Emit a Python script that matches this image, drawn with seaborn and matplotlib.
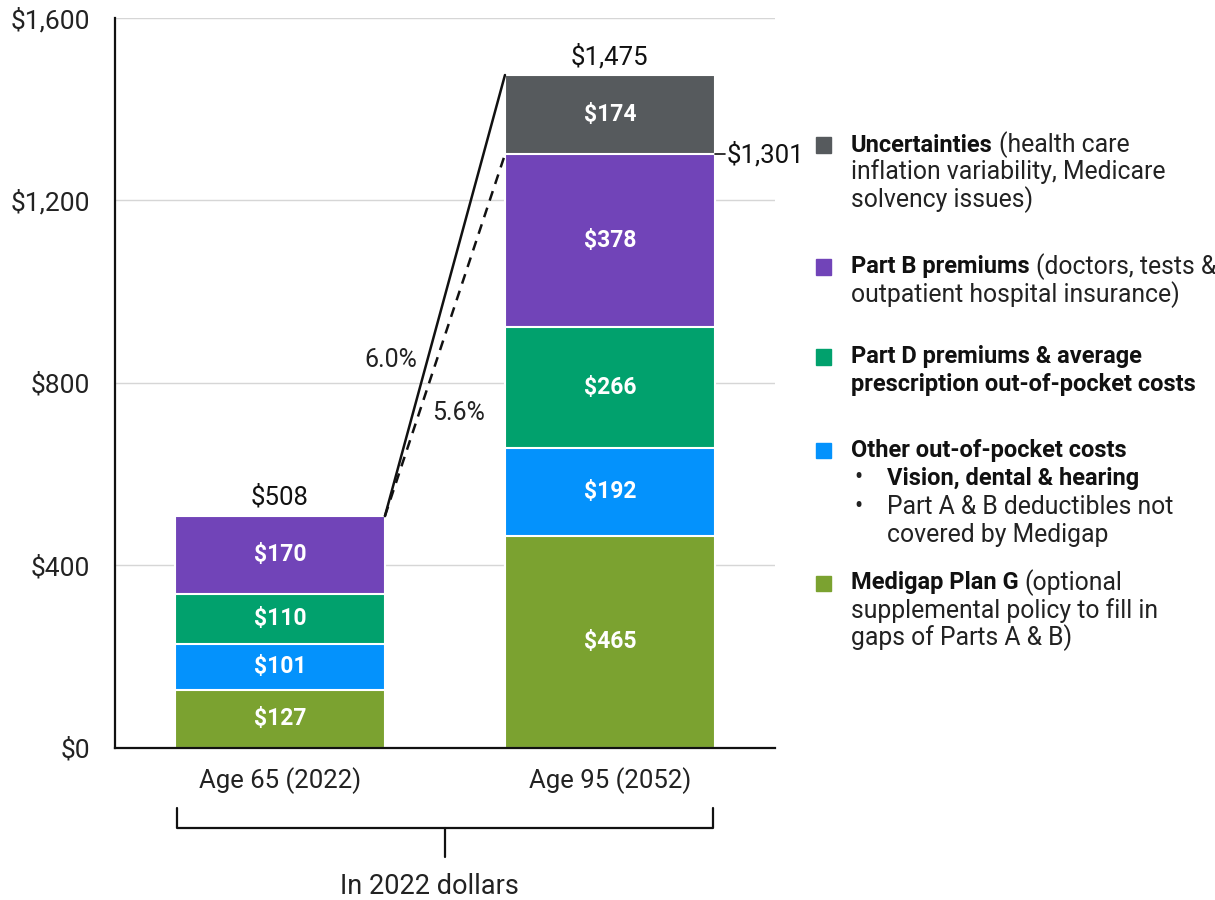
import matplotlib
matplotlib.use("Agg")
import matplotlib.pyplot as plt
import seaborn as sns
import pandas as pd
import numpy as np

# data
categories = ["Age 65 (2022)", "Age 95 (2052)"]
medigap = [127, 465]
other_oop = [101, 192]
part_d = [110, 266]
part_b = [170, 378]
uncert = [0, 174]
totals_note = ["$508", "$1,475"]
rate_labels = ["6.0%", "5.6%"]
yticks = [0, 400, 800, 1200, 1600]

colors = {"medigap": "#7BA230", "other": "#0492FC", "partd": "#01A16D",
          "partb": "#7144B8", "uncert": "#565A5D"}

sns.set_theme(style="white")
plt.rcParams["font.family"] = ["Roboto", "DejaVu Sans"]

fig = plt.figure(figsize=(12.15, 9), dpi=100)
ax = fig.add_axes([0.0947, 0.169, 0.543, 0.811])

layers = [("medigap", medigap), ("other", other_oop), ("partd", part_d),
          ("partb", part_b), ("uncert", uncert)]
cum = np.cumsum([v for _, v in layers], axis=0)

# draw cumulative bars from top layer down so each lower segment overlays
for i in range(len(layers) - 1, -1, -1):
    key = layers[i][0]
    df = pd.DataFrame({"cat": categories, "val": cum[i]})
    sns.barplot(data=df, x="cat", y="val", color=colors[key], width=0.636,
                saturation=1, edgecolor="white", linewidth=1.5, ax=ax, zorder=2)

# segment labels
for i, (key, vals) in enumerate(layers):
    for j, v in enumerate(vals):
        if v <= 0:
            continue
        mid = cum[i][j] - v / 2
        ax.text(j, mid, f"${v}", ha="center", va="center", color="white",
                fontsize=16.5, fontweight="bold", zorder=3)

ax.set_xlim(-0.5, 1.5)
ax.set_ylim(0, 1600)
ax.set_yticks(yticks)
ax.set_yticklabels([f"${t:,}" for t in yticks])
ax.tick_params(axis="y", length=0, labelsize=19, labelcolor="#222222", pad=18)
ax.tick_params(axis="x", length=0, labelsize=18.5, labelcolor="#222222", pad=14)
ax.set_xlabel("")
ax.set_ylabel("")
ax.yaxis.grid(True, color="#d6d6d6", linewidth=1, zorder=0)
ax.set_axisbelow(True)
for s in ["top", "right"]:
    ax.spines[s].set_visible(False)
for s in ["left", "bottom"]:
    ax.spines[s].set_color("#111111")
    ax.spines[s].set_linewidth(1.6)
    ax.spines[s].set_zorder(4)

hw = 0.318
tot1 = cum[3][0]
tot2_full = cum[4][1]
tot2_base = cum[3][1]

# growth lines
ax.plot([0 + hw, 1 - hw], [tot1, tot2_full], color="#111111", lw=1.8, zorder=4)
ax.plot([0 + hw, 1 - hw], [tot1, tot2_base], color="#111111", lw=1.8,
        ls=(0, (4, 3)), zorder=4)
ax.text(0.415, 850, rate_labels[0], ha="right", va="center", fontsize=18, color="#222222")
ax.text(0.46, 735, rate_labels[1], ha="left", va="center", fontsize=18, color="#222222")

# totals
ax.text(0, tot1 + 14, totals_note[0], ha="center", va="bottom", fontsize=18.5, color="#111111")
ax.text(1, tot2_full + 12, totals_note[1], ha="center", va="bottom", fontsize=18.5, color="#111111")
ax.plot([1 + hw, 1 + hw + 0.03], [tot2_base, tot2_base], color="#111111", lw=1.2, clip_on=False)
ax.text(1 + hw + 0.036, tot2_base, f"${tot2_base:,}", ha="left", va="center",
        fontsize=18.5, color="#111111", clip_on=False)

# bracket below categories
def fx(px):
    return px / 1215
def fy(py):
    return 1 - py / 900
fig.add_artist(plt.Line2D([fx(177), fx(177), fx(713), fx(713)],
                          [fy(808), fy(828), fy(828), fy(808)], color="#111111", lw=1.6))
fig.add_artist(plt.Line2D([fx(445), fx(445)], [fy(828), fy(857)], color="#111111", lw=1.6))
fig.text(fx(429), fy(886), "In 2022 dollars", ha="center", va="center", fontsize=19.5, color="#222222")

# legend
renderer = fig.canvas.get_renderer()
lx = fx(851)
sq = 15
fs_b = 17
fs_r = 17.8

def line(y, bold, rest="", x=lx):
    t = fig.text(x, fy(y), bold, ha="left", va="center", fontsize=fs_b,
                 fontweight="bold", color="#111111")
    if rest:
        bb = t.get_window_extent(renderer)
        fig.text(bb.x1 / fig.bbox.width + fx(6), fy(y), rest, ha="left", va="center",
                 fontsize=fs_r, color="#222222")

def plain(y, text, x=lx):
    fig.text(x, fy(y), text, ha="left", va="center", fontsize=fs_r, color="#222222")

def square(y, key):
    fig.add_artist(plt.Rectangle((fx(816), fy(y) - (sq / 2) / 900), sq / 1215, sq / 900,
                                 color=colors[key]))

square(145, "uncert")
line(145, "Uncertainties", "(health care")
plain(172, "inflation variability, Medicare")
plain(200, "solvency issues)")

square(267, "partb")
line(267, "Part B premiums", "(doctors, tests &")
plain(295, "outpatient hospital insurance)")

square(357, "partd")
line(357, "Part D premiums & average")
line(385, "prescription out-of-pocket costs")

square(450, "other")
line(450, "Other out-of-pocket costs")
plain(478, "\u2022", x=fx(854))
line(478, "Vision, dental & hearing", x=fx(887))
plain(507, "\u2022", x=fx(854))
plain(507, "Part A & B deductibles not", x=fx(887))
plain(535, "covered by Medigap", x=fx(887))

square(583, "medigap")
line(583, "Medigap Plan G", "(optional")
plain(611, "supplemental policy to fill in")
plain(638, "gaps of Parts A & B)")

fig.savefig("out.png", dpi=100)
